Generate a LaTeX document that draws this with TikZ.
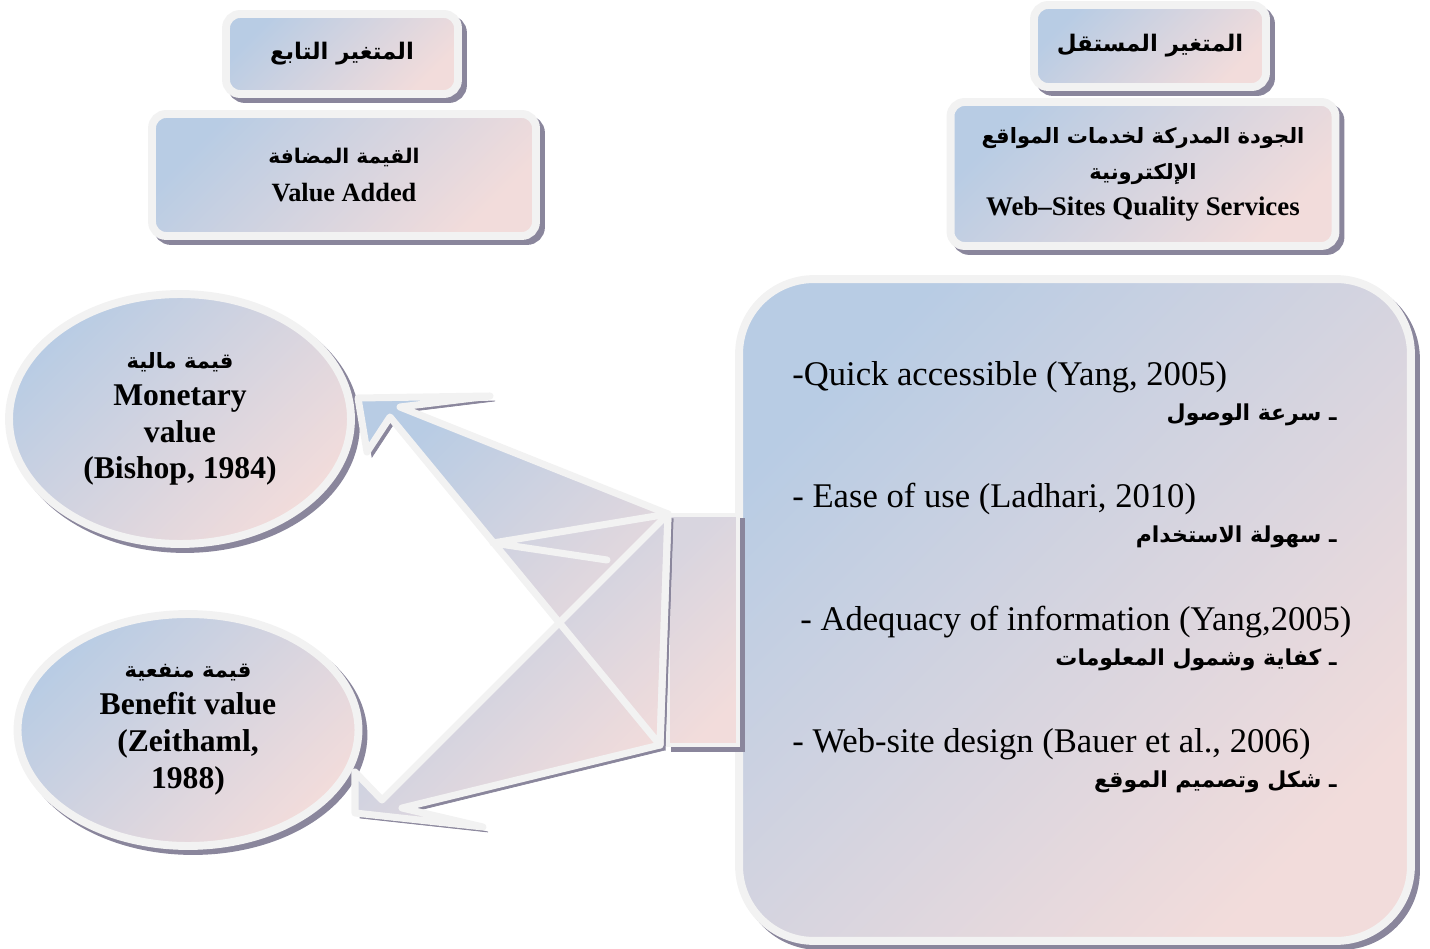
\documentclass[tikz,border=0pt]{standalone}
\usepackage{fontspec}
\setmainfont{Liberation Serif}
\newfontfamily\arabicfont[Script=Arabic]{DejaVu Sans}
\TeXXeTstate=1
\usetikzlibrary{shapes.geometric,shadows}
\definecolor{TopColor}{HTML}{B8CCE4}
\definecolor{BottomColor}{HTML}{F2DCDB}
\definecolor{RimColor}{HTML}{F2F2F2}
\definecolor{ShadowColor}{HTML}{8A869C}
\tikzstyle{soft_fill}=[top color=TopColor, bottom color=BottomColor, shading angle=45]
\tikzstyle{rim}=[draw=RimColor, line width=4.5pt]
\tikzstyle{hatch_shadow}=[drop shadow={shadow xshift=0.1cm, shadow yshift=-0.1cm,
        fill=ShadowColor, draw=ShadowColor, opacity=1}]
\tikzstyle{var_box}=[rectangle,
        rounded corners=8pt,
        soft_fill, rim, hatch_shadow,
        inner sep=0pt,
        align=center]
\tikzstyle{value_ellipse}=[ellipse,
        soft_fill, rim, hatch_shadow,
        inner sep=0pt,
        align=center,
        font=\bfseries\fontsize{18}{21}\selectfont]
\tikzstyle{arrow_body}=[soft_fill, hatch_shadow]
\tikzstyle{arrow_rim}=[draw=RimColor, line width=4pt, line join=round, line cap=round]
\newcommand{\artxt}[1]{{\arabicfont\bfseries\beginR #1\endR}}

\begin{document}
\begin{tikzpicture}[x=0.02cm, y=-0.02cm]
    \useasboundingbox (0,0) rectangle (1430,949);

    % the two variables
    \node at (342,54) (dep_title) [var_box, minimum width=4.64cm, minimum height=1.6cm,
        font=\fontsize{13}{19}\selectfont] {\artxt{المتغير التابع}};
    \node at (1150,46) (indep_title) [var_box, minimum width=4.64cm, minimum height=1.64cm,
        font=\fontsize{13}{19}\selectfont] {\artxt{المتغير المستقل}};
    \node at (344,175) (dep_var) [var_box, minimum width=7.68cm, minimum height=2.44cm,
        font=\bfseries\fontsize{15}{21.5}\selectfont]
        {{\fontsize{11.5}{21.5}\selectfont\artxt{القيمة المضافة}}\\Value Added};
    \node at (1143,174) (indep_var) [var_box, minimum width=7.7cm, minimum height=2.88cm,
        font=\bfseries\fontsize{15.3}{20.5}\selectfont]
        {{\fontsize{12}{20.5}\selectfont\artxt{الجودة المدركة لخدمات المواقع}}\\
         {\fontsize{12}{20.5}\selectfont\artxt{الإلكترونية}}\\Web–Sites Quality Services};

    % value ellipses
    \node at (180,419) (monetary) [value_ellipse, minimum width=6.84cm, minimum height=5cm]
        {{\fontsize{12}{21}\selectfont\artxt{قيمة مالية}}\\Monetary\\value\\(Bishop, 1984)};
    \node at (188,730) (benefit) [value_ellipse, minimum width=6.82cm, minimum height=4.64cm]
        {{\fontsize{12}{21}\selectfont\artxt{قيمة منفعية}}\\Benefit value\\(Zeithaml,\\1988)};

    % dimensions of quality
    \node at (1075,610) (dims) [var_box, rounded corners=1.5cm, minimum width=13.44cm,
        minimum height=13.24cm] {};
    \foreach \ly/\lx/\eng/\ara [count=\i] in {
        377/792/{-Quick accessible (Yang, 2005)}/{سرعة الوصول},
        499/792/{- Ease of use (Ladhari, 2010)}/{سهولة الاستخدام},
        622/800/{- Adequacy of information (Yang,2005)}/{كفاية وشمول المعلومات},
        744/792/{- Web-site design (Bauer et al., 2006)}/{شكل وتصميم الموقع}} {
        \node at (\lx,\ly) (eng\i) [anchor=west, inner sep=0pt,
            font=\fontsize{19.7}{22}\selectfont] {\eng};
        \node at (1337,\ly+38) (ara\i) [anchor=east, inner sep=0pt,
            font=\fontsize{12.5}{18}\selectfont] {\artxt{ـ \ara}};
    }

    \node at (703,630) (joint) [rectangle, top color=BottomColor!55!TopColor,
        bottom color=BottomColor, shading angle=45, rim, line width=2pt, hatch_shadow,
        minimum width=1.4cm, minimum height=4.6cm] {};

    % split arrow
    \coordinate (up_tip) at (358,398);
    \coordinate (up_barb_a) at (490,396);
    \coordinate (up_notch_a) at (400,407);
    \coordinate (up_notch_b) at (390,417);
    \coordinate (up_barb_b) at (367,452);
    \coordinate (lo_tip) at (355,813);
    \coordinate (lo_barb_a) at (355,772);
    \coordinate (lo_notch_a) at (382,800);
    \coordinate (lo_notch_b) at (402,808);
    \coordinate (lo_barb_b) at (483,827);
    \coordinate (root_top) at (668,514);
    \coordinate (root_bot) at (660,745);
    \coordinate (spike_base) at (493,543);
    \coordinate (spike_end) at (607,560);

    \path[arrow_body] (up_tip) -- (up_barb_a) -- (up_notch_a) -- (root_top) -- (root_bot)
        -- (up_notch_b) -- (up_barb_b) -- cycle;
    \path[arrow_body] (lo_tip) -- (lo_barb_a) -- (lo_notch_a) -- (root_top) -- (root_bot)
        -- (lo_notch_b) -- (lo_barb_b) -- cycle;
    \draw[arrow_rim] (up_tip) -- (up_barb_a) -- (up_notch_a) -- (root_top) -- (root_bot)
        -- (up_notch_b) -- (up_barb_b) -- cycle;
    \draw[arrow_rim] (lo_tip) -- (lo_barb_a) -- (lo_notch_a) -- (root_top) -- (root_bot)
        -- (lo_notch_b) -- (lo_barb_b) -- cycle;
    \draw[arrow_rim] (root_top) -- (spike_base) -- (spike_end);

\end{tikzpicture}
\end{document}
